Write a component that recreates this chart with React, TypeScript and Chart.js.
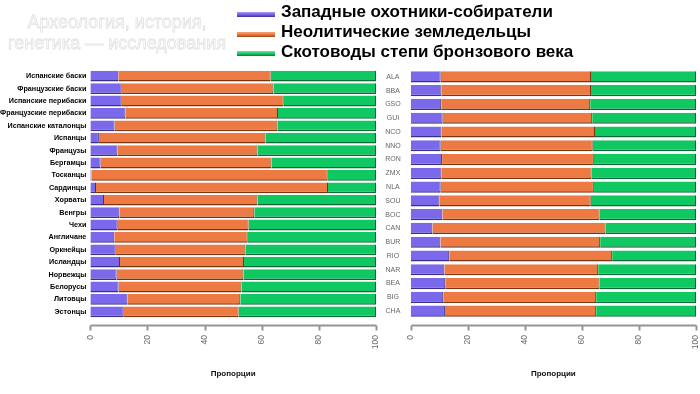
import React, { useEffect, useRef } from "react";
import { Chart, registerables } from "chart.js";
Chart.register(...registerables);

const seriesNames = [
  "Западные охотники-собиратели",
  "Неолитические земледельцы",
  "Скотоводы степи бронзового века",
];

const leftCategories = [
  "Испанские баски", "Французские баски", "Испанские перибаски", "Французские перибаски",
  "Испанские каталонцы", "Испанцы", "Французы", "Бергамцы", "Тосканцы", "Сардинцы",
  "Хорваты", "Венгры", "Чехи", "Англичане", "Оркнейцы", "Исландцы", "Норвежцы",
  "Белорусы", "Литовцы", "Эстонцы",
];
const leftWHG = [9.8, 11.0, 11.0, 12.3, 8.5, 3.0, 9.5, 3.6, 0.4, 2.0, 4.8, 10.2, 9.6, 8.4, 8.9, 10.4, 9.2, 9.9, 13.0, 11.7];
const leftEEF = [53.3, 53.1, 56.7, 53.4, 57.0, 58.3, 49.0, 59.8, 82.7, 81.2, 53.7, 47.2, 45.8, 46.7, 45.4, 43.4, 44.4, 43.0, 39.5, 40.2];
const leftSteppe = [36.9, 35.9, 32.3, 34.3, 34.5, 38.7, 41.5, 36.6, 16.9, 16.8, 41.5, 42.6, 44.6, 44.9, 45.7, 46.2, 46.4, 47.1, 47.5, 48.1];

const rightCategories = ["ALA", "BBA", "GSO", "GUI", "NCO", "NNO", "RON", "ZMX", "NLA", "SOU", "BOC", "CAN", "BUR", "RIO", "NAR", "BEA", "BIG", "CHA"];
const rightWHG = [10.5, 10.8, 10.7, 11.2, 10.8, 10.5, 11.0, 10.8, 10.5, 10.1, 11.1, 7.6, 10.4, 13.5, 11.8, 12.1, 11.4, 12.0];
const rightEEF = [52.7, 52.4, 52.2, 52.4, 53.8, 53.3, 53.2, 52.6, 53.7, 53.0, 55.1, 60.7, 56.0, 57.1, 53.9, 54.1, 53.6, 53.0];
const rightSteppe = [36.8, 36.8, 37.1, 36.4, 35.4, 36.2, 35.8, 36.6, 35.8, 36.9, 33.8, 31.7, 33.6, 29.4, 34.3, 33.8, 35.0, 35.0];

const xTicks = [0, 20, 40, 60, 80, 100];
const axisTitle = "Пропорции";

const colors = ["#7b69ec", "#ec7a42", "#10c862"];
const borders = ["#3b2f8a", "#7a3510", "#0a6a33"];

const FONT = "'Liberation Sans', Arial, sans-serif";

function drawAxis(chart: any) {
  const ctx = chart.ctx;
  const area = chart.chartArea;
  const xs = chart.scales["x"];
  const y = Math.round(area.bottom + 7) + 0.5;
  const x0 = Math.round(xs.getPixelForValue(xTicks[0])) + 0.5;
  const x1 = Math.round(xs.getPixelForValue(xTicks[xTicks.length - 1])) + 0.5;
  ctx.save();
  ctx.strokeStyle = "#959595";
  ctx.lineWidth = 2;
  ctx.beginPath();
  ctx.moveTo(x0, y);
  ctx.lineTo(x1, y);
  for (let i = 0; i < xTicks.length; i++) {
    const px = Math.round(xs.getPixelForValue(xTicks[i])) + 0.5;
    ctx.moveTo(px, y);
    ctx.lineTo(px, y + 5);
  }
  ctx.stroke();
  ctx.restore();
}

const axisPlugin = {
  id: "rAxisLine",
  afterDatasetsDraw(chart: any) {
    drawAxis(chart);
  },
};

type PanelProps = {
  categories: string[];
  whg: number[];
  eef: number[];
  steppe: number[];
  width: number;
  left: number;
  yAxisWidth: number;
  barPct: number;
  labelFont: any;
  labelColor: string;
  labelAlign: "near" | "center" | "far";
  labelPadding: number;
};

function Panel(p: PanelProps) {
  const ref = useRef<HTMLCanvasElement | null>(null);
  useEffect(() => {
    if (!ref.current) return;
    const series = [p.whg, p.eef, p.steppe];
    const chart = new Chart(ref.current, {
      type: "bar",
      data: {
        labels: p.categories,
        datasets: series.map((d, i) => ({
          label: seriesNames[i],
          data: d,
          backgroundColor: colors[i],
          borderColor: borders[i],
          borderWidth: { top: 0, left: 0, right: 1, bottom: 1.5 },
          borderSkipped: false,
          barPercentage: p.barPct,
          categoryPercentage: 1,
        })),
      },
      options: {
        indexAxis: "y",
        responsive: false,
        animation: false,
        layout: { padding: { left: 0, right: 4, top: 70, bottom: 0 } },
        plugins: { legend: { display: false }, tooltip: { enabled: false } },
        scales: {
          x: {
            stacked: true,
            min: 0,
            max: 100,
            afterBuildTicks: (s: any) => {
              s.ticks = xTicks.map((v) => ({ value: v }));
            },
            afterFit: (s: any) => {
              s.height = 394 - 318;
              s.paddingLeft = 0;
              s.paddingRight = 0;
            },
            grid: { display: false, drawTicks: false },
            border: { display: false },
            ticks: {
              minRotation: 90,
              maxRotation: 90,
              padding: 17,
              color: "#6a6a6a",
              font: { family: FONT, size: 8.5 },
            },
            title: {
              display: true,
              text: axisTitle,
              color: "#111",
              font: { family: FONT, size: 8, weight: "bold" },
              padding: { top: 0, bottom: 15 },
            },
          },
          y: {
            stacked: true,
            afterFit: (s: any) => {
              s.width = p.yAxisWidth;
              s.paddingTop = 0;
              s.paddingBottom = 0;
            },
            grid: { display: false, drawTicks: false },
            border: { display: false },
            ticks: {
              autoSkip: false,
              color: p.labelColor,
              font: p.labelFont,
              crossAlign: p.labelAlign,
              padding: p.labelPadding,
            },
          },
        },
      },
      plugins: [axisPlugin],
    } as any);
    return () => chart.destroy();
  }, []);
  return (
    <canvas
      ref={ref}
      width={p.width}
      height={394}
      style={{ position: "absolute", left: p.left, top: 0, width: p.width, height: 394 }}
    />
  );
}

const swatchGrad = [
  "linear-gradient(#a99cf5, #6a58e0 60%, #3f3399)",
  "linear-gradient(#f5a57a, #e87035 60%, #9a4515)",
  "linear-gradient(#6fe3a0, #0cc15b 60%, #087a38)",
];

export default function App() {
  return (
    <div style={{ position: "absolute", left: 0, top: 0, width: 700, height: 394, background: "#fff", overflow: "hidden" }}>
      <Panel
        categories={leftCategories}
        whg={leftWHG}
        eef={leftEEF}
        steppe={leftSteppe}
        width={380}
        left={0}
        yAxisWidth={90.3}
        barPct={0.87}
        labelFont={{ family: FONT, size: 7.2, weight: "bold" }}
        labelColor="#000"
        labelAlign="near"
        labelPadding={4}
      />
      <Panel
        categories={rightCategories}
        whg={rightWHG}
        eef={rightEEF}
        steppe={rightSteppe}
        width={320}
        left={380}
        yAxisWidth={30.7}
        barPct={0.81}
        labelFont={{ family: FONT, size: 7 }}
        labelColor="#666"
        labelAlign="center"
        labelPadding={10}
      />
      <div
        style={{
          position: "absolute",
          left: 0,
          top: 12,
          width: 234,
          textAlign: "center",
          fontFamily: FONT,
          fontSize: 18,
          lineHeight: "20.6px",
          color: "#fff",
          WebkitTextStroke: "0.8px #e2e2e2",
        }}
      >
        Археология, история,
        <br />
        генетика — исследования
      </div>
      {seriesNames.map((n, i) => (
        <div key={n}>
          <div
            style={{
              position: "absolute",
              left: 237,
              top: 12 + i * 19.5,
              width: 38,
              height: 5,
              background: swatchGrad[i],
            }}
          />
          <div
            style={{
              position: "absolute",
              left: 281,
              top: 2 + i * 20,
              fontFamily: FONT,
              fontWeight: "bold",
              fontSize: 17,
              lineHeight: "20px",
              color: "#000",
              whiteSpace: "nowrap",
            }}
          >
            {n}
          </div>
        </div>
      ))}
    </div>
  );
}
